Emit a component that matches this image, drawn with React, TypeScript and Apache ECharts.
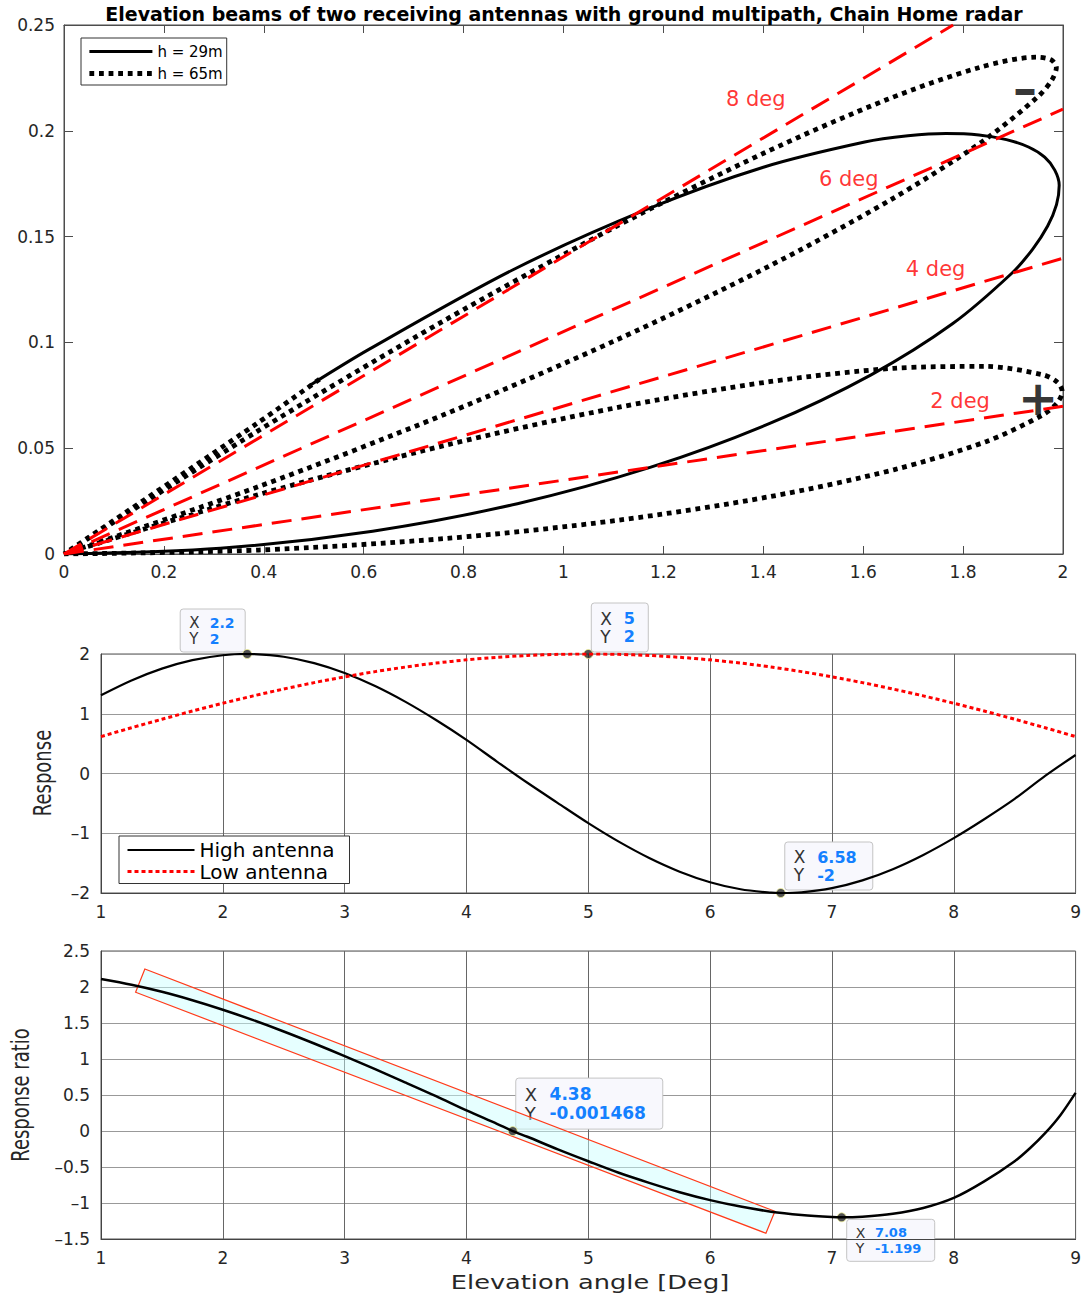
import React, { useEffect, useRef } from 'react';
import * as echarts from 'echarts';

// ---------- Top panel: elevation beams (x, y) ----------
const beamH29: number[][] = [
  [0, 0], [0.3129, 0.00273], [0.6179, 0.01079], [0.9077, 0.02377], [1.1749, 0.04103],
  [1.4129, 0.06169], [1.6158, 0.08468], [1.7787, 0.10879], [1.8975, 0.13268], [1.9394, 0.14412],
  [1.9693, 0.15499], [1.987, 0.16511], [1.9924, 0.17431], [1.9835, 0.18144], [1.9633, 0.18753],
  [1.9309, 0.19234], [1.8867, 0.19582], [1.8318, 0.19806], [1.7656, 0.19873], [1.6895, 0.19763],
  [1.603, 0.19469], [1.4001, 0.18279], [1.1641, 0.16261], [0.898, 0.13421], [0.6104, 0.09668],
  [0.491, 0.0795],
];

const beamH65: number[][] = [
  [0, 0], [0.3902, 0.00187], [0.7653, 0.00735], [1.111, 0.016], [1.414, 0.02715],
  [1.6625, 0.0399], [1.847, 0.05321], [1.9605, 0.06589], [1.9891, 0.07163], [1.9985, 0.07678],
  [1.9887, 0.08118], [1.9597, 0.08471], [1.8456, 0.08865], [1.6606, 0.08775], [1.4119, 0.08141],
  [1.109, 0.06928], [0.7636, 0.05139], [0.3892, 0.02807], [0, 0],
  [0.3889, 0.0318], [0.7625, 0.06604], [1.1065, 0.10119], [1.4077, 0.13555], [1.6545, 0.16733],
  [1.8375, 0.19474], [1.9496, 0.21609], [1.9777, 0.22402], [1.9867, 0.22988], [1.9766, 0.23351],
  [1.9475, 0.2348], [1.8334, 0.22999], [1.649, 0.2149], [1.4015, 0.18949], [1.1004, 0.15416],
  [0.7575, 0.10982], [0.3859, 0.05784], [0, 0],
  [0.3853, 0.06154], [0.5157, 0.08326],
];

const rayNames = ['2 deg', '4 deg', '6 deg', '8 deg'];
const rayEnds: number[][] = [[2, 0.0698], [2, 0.1398], [2, 0.2102], [1.78, 0.25]];
const rayLabelAt: number[][] = [[1.794, 0.0722], [1.745, 0.1349], [1.571, 0.1774], [1.385, 0.215]];
const signTexts = ['+', '\u2013'];
const signAt: number[][] = [[1.95, 0.0736], [1.924, 0.2203]];

// ---------- Middle panel: responses ----------
const highAntenna: number[][] = [
  [1, 1.3097], [1.25, 1.5569], [1.5, 1.7554], [1.75, 1.8977], [2, 1.9796], [2.2, 2],
  [2.25, 1.9987], [2.5, 1.9543], [2.75, 1.8478], [3, 1.6825], [3.25, 1.464], [3.5, 1.1987],
  [3.75, 0.8952], [4, 0.5635], [4.25, 0.2], [4.5, -0.155], [4.75, -0.4946], [5, -0.8308],
  [5.25, -1.1406], [5.5, -1.4142], [5.75, -1.6431], [6, -1.8193], [6.25, -1.9379], [6.5, -1.9949],
  [6.58, -2], [6.75, -1.9885], [7, -1.919], [7.25, -1.7885], [7.5, -1.6011], [7.75, -1.3628],
  [8, -1.0813], [8.25, -0.7654], [8.5, -0.4251], [8.75, -0.04], [9, 0.31],
];

const lowAntenna: number[][] = [
  [1, 0.618], [1.25, 0.7654], [1.5, 0.908], [1.75, 1.045], [2, 1.1756], [2.25, 1.2989],
  [2.5, 1.4142], [2.75, 1.5208], [3, 1.618], [3.25, 1.7053], [3.5, 1.782], [3.75, 1.8478],
  [4, 1.9021], [4.25, 1.9447], [4.5, 1.9754], [4.75, 1.9938], [5, 2], [5.25, 1.9938],
  [5.5, 1.9754], [5.75, 1.9447], [6, 1.9021], [6.25, 1.8478], [6.5, 1.782], [6.75, 1.7053],
  [7, 1.618], [7.25, 1.5208], [7.5, 1.4142], [7.75, 1.2989], [8, 1.1756], [8.25, 1.045],
  [8.5, 0.908], [8.75, 0.7654], [9, 0.618],
];

const responseTips: number[][] = [[2.2, 2], [5, 2], [6.58, -2]];

// ---------- Bottom panel: response ratio ----------
const responseRatio: number[][] = [
  [1, 2.11], [1.25, 2.03], [1.5, 1.933], [1.75, 1.816], [2, 1.684], [2.25, 1.539],
  [2.5, 1.382], [2.75, 1.215], [3, 1.04], [3.25, 0.858], [3.5, 0.673], [3.75, 0.484],
  [4, 0.285], [4.25, 0.1], [4.38, -0.0015], [4.5, -0.08], [4.75, -0.255], [5, -0.42],
  [5.25, -0.58], [5.5, -0.72], [5.75, -0.85], [6, -0.96], [6.25, -1.05], [6.5, -1.12],
  [6.75, -1.165], [7, -1.195], [7.08, -1.199], [7.25, -1.19], [7.5, -1.15], [7.75, -1.07],
  [8, -0.93], [8.25, -0.7], [8.5, -0.42], [8.625, -0.24], [8.75, -0.03], [8.875, 0.22], [9, 0.53],
];

const ratioTips: number[][] = [[4.38, -0.001468], [7.08, -1.199]];
const bandCorners: number[][] = [[1.36, 2.25], [6.532, -1.115], [6.458, -1.42], [1.284, 1.927]];

const FONT = 'DejaVu Sans';
const AXIS = '#4d4d4d';
const LABEL = '#262626';
const fmt = (v: number) => String(v).replace('-', '\u2013');

export default function App() {
  const ref = useRef<HTMLDivElement>(null);

  useEffect(() => {
    if (!ref.current) return;
    const chart = echarts.init(ref.current, undefined, { renderer: 'svg' });

    const boxAxisX = (gridIndex: number, position: string, showLabel: boolean) => ({
      gridIndex, type: 'value', min: 0, max: 2, interval: 0.2, position,
      axisLine: { show: true, onZero: false, lineStyle: { color: AXIS, width: 1 } },
      axisTick: { show: true, inside: true, length: 8, lineStyle: { color: AXIS } },
      axisLabel: { show: showLabel, color: LABEL, fontFamily: FONT, fontSize: 17, margin: 9, formatter: fmt },
      splitLine: { show: false },
    });
    const boxAxisY = (gridIndex: number, position: string, showLabel: boolean) => ({
      gridIndex, type: 'value', min: 0, max: 0.25, interval: 0.05, position,
      axisLine: { show: true, onZero: false, lineStyle: { color: AXIS, width: 1 } },
      axisTick: { show: true, inside: true, length: 9, lineStyle: { color: AXIS } },
      axisLabel: { show: showLabel, color: LABEL, fontFamily: FONT, fontSize: 17, margin: 9, formatter: fmt },
      splitLine: { show: false },
    });
    const gridAxisX = (gridIndex: number) => ({
      gridIndex, type: 'value', min: 1, max: 9, interval: 1,
      axisLine: { show: true, onZero: false, lineStyle: { color: '#444' } },
      axisTick: { show: false },
      axisLabel: { color: LABEL, fontFamily: FONT, fontSize: 17, margin: 10, formatter: fmt, showMaxLabel: true },
      splitLine: { show: true, lineStyle: { color: '#666', width: 1 } },
    });
    const gridAxisY = (gridIndex: number, min: number, max: number, interval: number) => ({
      gridIndex, type: 'value', min, max, interval,
      axisLine: { show: true, onZero: false, lineStyle: { color: '#444' } },
      axisTick: { show: false },
      axisLabel: { color: LABEL, fontFamily: FONT, fontSize: 17, margin: 11, formatter: fmt },
      splitLine: { show: true, lineStyle: { color: '#999', width: 1 } },
    });

    const series: any[] = [
      {
        type: 'line', name: 'h = 29m', xAxisIndex: 0, yAxisIndex: 0, data: beamH29,
        symbol: 'none', smooth: 0.3, lineStyle: { color: '#000', width: 3 }, itemStyle: { color: '#000' },
      },
      {
        type: 'line', name: 'h = 65m', xAxisIndex: 0, yAxisIndex: 0, data: beamH65,
        symbol: 'none', smooth: 0.3, lineStyle: { color: '#000', width: 4.8, type: 'dotted' }, itemStyle: { color: '#000' },
      },
      ...rayEnds.map((end, i) => ({
        type: 'line', name: rayNames[i], xAxisIndex: 0, yAxisIndex: 0, data: [[0, 0], end],
        symbol: 'none', lineStyle: { color: '#ff0000', width: 3, type: [20, 10] }, silent: true,
      })),
      {
        type: 'scatter', name: 'ray labels', xAxisIndex: 0, yAxisIndex: 0,
        data: rayLabelAt.map((p, i) => ({ value: p, name: rayNames[i] })),
        symbolSize: 1, itemStyle: { color: 'rgba(0,0,0,0)' }, silent: true,
        label: { show: true, position: 'inside', formatter: '{b}', color: '#ff0000', fontFamily: FONT, fontSize: 21 },
      },
      {
        type: 'scatter', name: 'signs', xAxisIndex: 0, yAxisIndex: 0,
        data: signAt.map((p, i) => ({ value: p, name: signTexts[i] })),
        symbolSize: 1, itemStyle: { color: 'rgba(0,0,0,0)' }, silent: true,
        label: { show: true, position: 'inside', formatter: '{b}', color: '#000', fontFamily: FONT, fontWeight: 'bold', fontSize: 48 },
      },
      {
        type: 'line', name: 'High antenna', xAxisIndex: 2, yAxisIndex: 2, data: highAntenna,
        symbol: 'none', smooth: 0.3, lineStyle: { color: '#000', width: 2.2 }, itemStyle: { color: '#000' },
      },
      {
        type: 'line', name: 'Low antenna', xAxisIndex: 2, yAxisIndex: 2, data: lowAntenna,
        symbol: 'none', smooth: 0.3, lineStyle: { color: '#ff0000', width: 3, type: [4, 3] }, itemStyle: { color: '#ff0000' },
      },
      {
        type: 'scatter', name: 'response tips', xAxisIndex: 2, yAxisIndex: 2, data: responseTips,
        symbolSize: 9, itemStyle: { color: '#262626', borderColor: '#f3f39a', borderWidth: 1 }, silent: true,
      },
      {
        type: 'line', name: 'Response ratio', xAxisIndex: 3, yAxisIndex: 3, data: responseRatio,
        symbol: 'none', smooth: 0.3, lineStyle: { color: '#000', width: 2.5 },
      },
      {
        type: 'scatter', name: 'ratio tips', xAxisIndex: 3, yAxisIndex: 3, data: ratioTips,
        symbolSize: 9, itemStyle: { color: '#262626', borderColor: '#f3f39a', borderWidth: 1 }, silent: true,
      },
      {
        type: 'custom', name: 'band', xAxisIndex: 3, yAxisIndex: 3, data: bandCorners,
        encode: { x: 0, y: 1 }, silent: true,
        renderItem: (params: any, api: any) => {
          if (params.dataIndex !== 0) return null;
          const pts = bandCorners.map((c) => api.coord(c));
          return {
            type: 'polygon',
            shape: { points: pts },
            style: { fill: 'rgba(200,255,255,0.45)', stroke: '#ff3b1a', lineWidth: 1.2 },
          };
        },
      },
    ];

    chart.setOption({
      animation: false,
      title: {
        text: 'Elevation beams of two receiving antennas with ground multipath, Chain Home radar',
        left: 564, top: 4, padding: 0, textAlign: 'center',
        textStyle: { fontFamily: FONT, fontWeight: 'bold', fontSize: 19, color: '#000' },
      },
      legend: [
        {
          data: ['h = 29m', 'h = 65m'], left: 81, top: 38, orient: 'vertical',
          itemWidth: 63, itemHeight: 14, itemGap: 7, padding: [6, 4, 4, 6],
          borderColor: '#333', borderWidth: 1, backgroundColor: '#fff', selectedMode: false,
          itemStyle: { opacity: 0 }, lineStyle: { width: 'inherit' },
          textStyle: { fontFamily: FONT, fontSize: 15, color: '#000', lineHeight: 14 },
        },
        {
          data: ['High antenna', 'Low antenna'], left: 119, top: 836, orient: 'vertical',
          itemWidth: 67, itemHeight: 14, itemGap: 1.5, padding: [4, 15, 2, 7],
          borderColor: '#333', borderWidth: 1, backgroundColor: '#fff', selectedMode: false,
          itemStyle: { opacity: 0 }, lineStyle: { width: 'inherit' },
          textStyle: { fontFamily: FONT, fontSize: 20, color: '#000', lineHeight: 20 },
        },
      ],
      grid: [
        { left: 64, right: 21, top: 25, height: 529, show: true, borderColor: AXIS, borderWidth: 1, backgroundColor: '#fff' },
        { left: 101, right: 5, top: 654, height: 239, show: true, borderColor: '#555', borderWidth: 1 },
        { left: 101, right: 5, top: 951, height: 288, show: true, borderColor: '#555', borderWidth: 1 },
      ],
      xAxis: [boxAxisX(0, 'bottom', true), boxAxisX(0, 'top', false), gridAxisX(1), gridAxisX(2)],
      yAxis: [boxAxisY(0, 'left', true), boxAxisY(0, 'right', false), gridAxisY(1, -2, 2, 1), gridAxisY(2, -1.5, 2.5, 0.5)],
      series,
    });

    // Data tips and axis titles
    const tipDefs = [
      { grid: 1, p: responseTips[0], dx: -67, dy: -45, w: 65, h: 43, fs: 14 },
      { grid: 1, p: responseTips[1], dx: 3, dy: -51, w: 57, h: 49, fs: 16 },
      { grid: 1, p: responseTips[2], dx: 4, dy: -51, w: 88, h: 48, fs: 16 },
      { grid: 2, p: ratioTips[0], dx: 3, dy: -53, w: 147, h: 51, fs: 17 },
      { grid: 2, p: ratioTips[1], dx: 5, dy: 2, w: 88, h: 42, fs: 13 },
    ];
    const graphics: any[] = tipDefs.map((t) => {
      const px = chart.convertToPixel({ gridIndex: t.grid } as any, t.p) as number[];
      const bx = px[0] + t.dx;
      const by = px[1] + t.dy;
      const keyStyle = { fontFamily: FONT, fontSize: t.fs + 1, fill: '#333', verticalAlign: 'middle', align: 'left' };
      const valStyle = { fontFamily: FONT, fontSize: t.fs, fontWeight: 'bold', fill: '#1480ff', verticalAlign: 'middle', align: 'left' };
      const vx = 10 + t.fs * 1.4;
      return {
        type: 'group', x: bx, y: by, z: 100,
        children: [
          { type: 'rect', shape: { x: 0, y: 0, width: t.w, height: t.h, r: 3 }, style: { fill: '#f8f8fd', stroke: '#c4c4c4', lineWidth: 1 } },
          { type: 'text', x: 9, y: t.h * 0.32, style: { ...keyStyle, text: 'X' } },
          { type: 'text', x: vx, y: t.h * 0.32, style: { ...valStyle, text: String(t.p[0]) } },
          { type: 'text', x: 9, y: t.h * 0.69, style: { ...keyStyle, text: 'Y' } },
          { type: 'text', x: vx, y: t.h * 0.69, style: { ...valStyle, text: String(t.p[1]) } },
        ],
      };
    });
    graphics.push(
      {
        type: 'text', x: 42, y: 773, rotation: Math.PI / 2, scaleY: 1.35, z: 50,
        style: { text: 'Response', fontFamily: FONT, fontSize: 18, fill: LABEL, align: 'center', verticalAlign: 'middle' },
      },
      {
        type: 'text', x: 20, y: 1095, rotation: Math.PI / 2, scaleY: 1.35, z: 50,
        style: { text: 'Response ratio', fontFamily: FONT, fontSize: 18, fill: LABEL, align: 'center', verticalAlign: 'middle' },
      },
      {
        type: 'text', x: 590, y: 1282, scaleX: 1.35, z: 50,
        style: { text: 'Elevation angle [Deg]', fontFamily: FONT, fontSize: 19, fill: LABEL, align: 'center', verticalAlign: 'middle' },
      },
    );
    chart.setOption({ graphic: graphics });

    return () => chart.dispose();
  }, []);

  return <div ref={ref} style={{ position: 'absolute', left: 0, top: 0, width: 1084, height: 1293 }} />;
}
